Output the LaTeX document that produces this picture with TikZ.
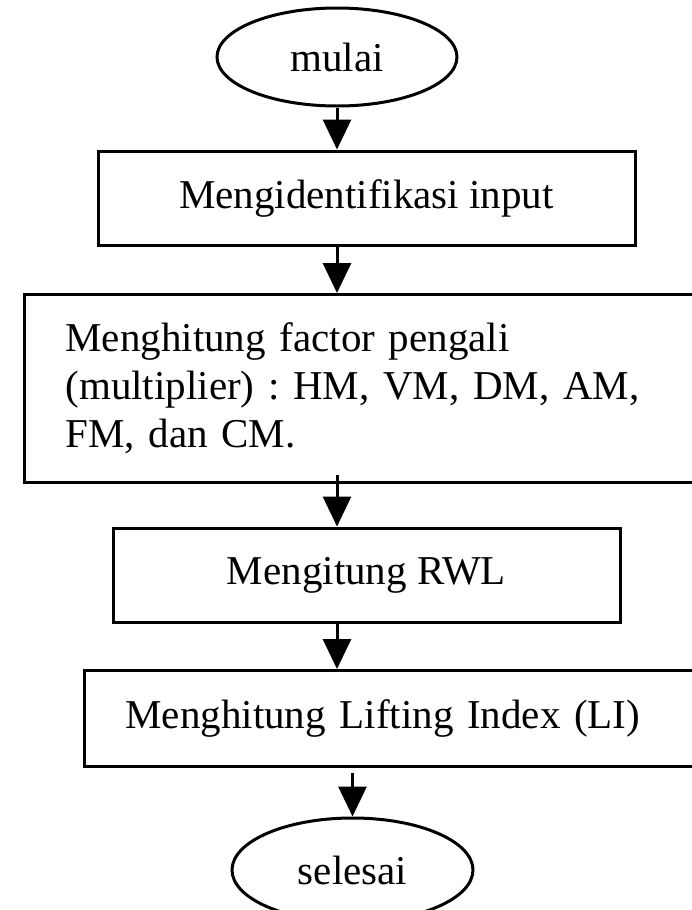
\documentclass[tikz,border=0pt]{standalone}
\usepackage{fontspec}
\setmainfont{Liberation Serif}
\usetikzlibrary{shapes.geometric,arrows.meta}
\frenchspacing

\tikzset{
  terminal/.style={draw, ellipse, line width=3pt, inner sep=0pt, minimum width=240pt, minimum height=98pt},
  proses/.style={draw, rectangle, line width=3pt, inner sep=0pt},
  panah/.style={line width=3pt, -{Triangle[width=28pt,length=30pt]}}
}

\begin{document}
\begin{tikzpicture}[x=1pt, y=-1pt, font=\fontsize{41}{48}\selectfont]
    \useasboundingbox (0,0) rectangle (691,910);
    \node[terminal] (mulai) at (337,57) {mulai};
    \node[proses, minimum width=537pt, minimum height=94pt] (identifikasi) at (366.5,198) {Mengidentifikasi input};
    \node[proses, anchor=north west, minimum height=188pt, inner xsep=41pt, text width=615pt, align=left] (faktor) at (23,293)
        {Menghitung factor pengali\\(multiplier) : HM, VM, DM, AM,\\FM, dan CM.};
    \node[proses, minimum width=507pt, minimum height=94pt] (rwl) at (366.5,575) {Mengitung RWL};
    \node[proses, anchor=north west, minimum height=96pt, inner xsep=41pt, text width=558pt, align=left] (li) at (83,669)
        {Menghitung Lifting Index (LI)};
    \node[terminal, minimum width=241pt, minimum height=104pt] (selesai) at (352.5,870) {selesai};
    % arrows
    \draw[panah] (mulai.south) -- (mulai.south |- identifikasi.north);
    \draw[panah] (mulai.south |- identifikasi.south) -- (mulai.south |- faktor.north);
    \draw[panah, shorten <=-9pt] (mulai.south |- faktor.south) -- (mulai.south |- rwl.north);
    \draw[panah] (mulai.south |- rwl.south) -- (mulai.south |- li.north);
    \draw[panah, shorten <=5pt] (selesai.north |- li.south) -- (selesai.north);
\end{tikzpicture}
\end{document}
